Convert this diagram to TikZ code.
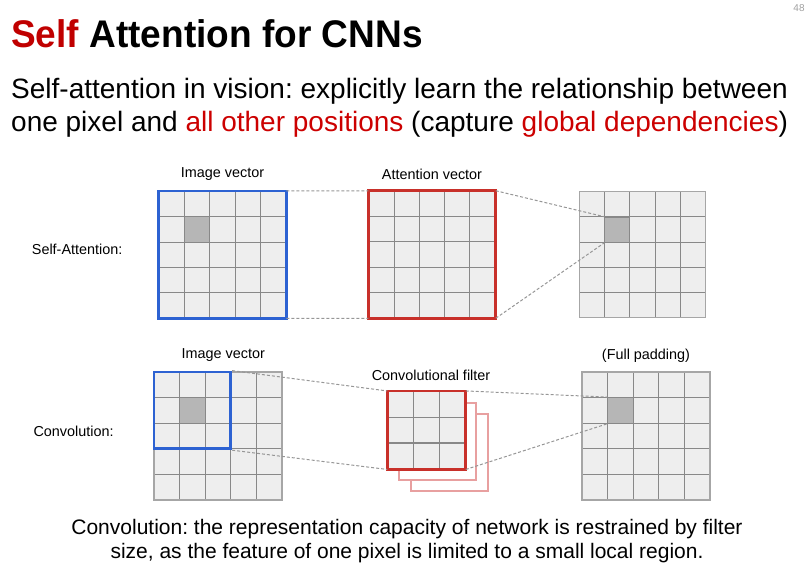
\documentclass[tikz,border=0pt]{standalone}
\usepackage{fontspec}
\setmainfont{Liberation Sans}
\usetikzlibrary{calc}
\frenchspacing
\definecolor{titlered}{RGB}{192,0,0}
\definecolor{textred}{RGB}{204,0,0}
\definecolor{boxblue}{RGB}{45,98,210}
\definecolor{boxred}{RGB}{200,48,42}
\definecolor{lightred}{RGB}{232,160,160}
\definecolor{cellfill}{RGB}{238,238,238}
\definecolor{cellline}{RGB}{136,136,136}
\definecolor{darkfill}{RGB}{182,182,182}
\definecolor{dashgray}{RGB}{150,150,150}
\definecolor{pagegray}{RGB}{160,160,160}
\tikzset{
  cells/.style={path picture={
    \pgfmathtruncatemacro\mm{#1-1}
    \foreach \k in {1,...,\mm}{
      \draw[cellline,line width=1.1pt]
        ($(path picture bounding box.north west)!\k/#1!(path picture bounding box.north east)$) --
        ($(path picture bounding box.south west)!\k/#1!(path picture bounding box.south east)$);
      \draw[cellline,line width=1.1pt]
        ($(path picture bounding box.north west)!\k/#1!(path picture bounding box.south west)$) --
        ($(path picture bounding box.north east)!\k/#1!(path picture bounding box.south east)$);
    }}},
  gridbox/.style={rectangle, inner sep=0pt, fill=cellfill, draw=cellline!75, line width=1.5pt,
    minimum width=#1, minimum height=#1},
  darkcell/.style={rectangle, inner sep=0pt, fill=darkfill, draw=cellline, line width=1.1pt,
    minimum width=#1, minimum height=#1},
  bluebox/.style={rectangle, inner sep=0pt, draw=boxblue, line width=2.8pt,
    minimum width=#1, minimum height=#1},
  redbox/.style={rectangle, inner sep=0pt, fill=cellfill, draw=boxred, line width=2.8pt,
    minimum width=#1, minimum height=#1},
  backlayer/.style={rectangle, inner sep=0pt, fill=white, draw=lightred, line width=2pt,
    minimum width=#1, minimum height=#1},
  dashlink/.style={draw=dashgray, line width=1pt, dash pattern=on 3pt off 2pt},
  lbl/.style={inner sep=0pt, font=\fontsize{14.4}{17}\selectfont},
}
\begin{document}
\begin{tikzpicture}[x=1pt,y=-1pt]
\useasboundingbox (0,0) rectangle (811,581);

% header
\node[inner sep=0pt, text=pagegray, font=\fontsize{10}{12}\selectfont] (pagenum) at (799,8) {48};
\node[inner sep=0pt, anchor=base west, xscale=0.962, font=\fontsize{38.5}{46}\selectfont\bfseries] (title) at (11,47)
  {\textcolor{titlered}{Self} Attention for CNNs};
\node[inner sep=0pt, anchor=base west, font=\fontsize{28}{34}\selectfont] (sub1) at (11,98)
  {Self-attention in vision: explicitly learn the relationship between};
\node[inner sep=0pt, anchor=base west, font=\fontsize{28}{34}\selectfont] (sub2) at (11,131)
  {one pixel and \textcolor{textred}{all other positions} (capture \textcolor{textred}{global dependencies})};

% self-attention row
\node[lbl, anchor=west] (salbl) at (31.7,249) {Self-Attention:};
\node[gridbox=126pt, cells=5] (saimg) at (222.5,254.7) {};
\node[darkcell=25.2pt] (saimgd) at (197.3,229.5) {};
\draw[boxblue, line width=2.8pt] (saimg.north west) rectangle (saimg.south east);
\node[gridbox=126pt, cells=5] (att) at (432,254.5) {};
\draw[boxred, line width=2.8pt] (att.north west) rectangle (att.south east);
\node[gridbox=126pt, cells=5] (saout) at (642.5,254.7) {};
\node[darkcell=25.2pt] (sad) at (617.3,229.8) {};
\node[lbl] (saimglbl) at (222.5,174) {Image vector};
\node[lbl] (attlbl) at (432,174) {Attention vector};

% convolution row
\node[lbl, anchor=west] (cvlbl) at (33.3,431) {Convolution:};
\node[gridbox=128pt, cells=5] (cimg) at (218,436) {};
\node[darkcell=25.6pt] (cimgd) at (192.4,410.4) {};
\node[bluebox=76.8pt] (cblue) at (192.4,410.4) {};
\node[lbl] (cimglbl) at (223.3,355) {Image vector};

\node[backlayer=77pt] (filt3) at (449.1,452.8) {};
\node[backlayer=77pt] (filt2) at (437.8,441.5) {};
\node[gridbox=77pt, cells=3] (filt) at (426.5,430.2) {};
\draw[boxred, line width=2.8pt] (filt.north west) rectangle (filt.south east);
\node[lbl] (filtlbl) at (431,375) {Convolutional filter};

\node[gridbox=128pt, cells=5] (cout) at (646,436) {};
\node[darkcell=25.6pt] (cd) at (620.7,410.4) {};
\node[lbl] (coutlbl) at (646,356) {(Full padding)};

% connectors
\draw[dashlink] (saimg.north east) -- (att.north west);
\draw[dashlink] (saimg.south east) -- (att.south west);
\draw[dashlink] (att.north east) -- (sad.north west);
\draw[dashlink] (att.south east) -- (sad.south west);
\draw[dashlink] (cblue.north east) -- (filt.north west);
\draw[dashlink] (cblue.south east) -- (filt.south west);
\draw[dashlink] (filt.north east) -- (cd.north west);
\draw[dashlink] (filt.south east) -- (cd.south west);

% caption
\node[inner sep=0pt, anchor=base, font=\fontsize{21}{24}\selectfont] (cap1) at (407,534)
  {Convolution: the representation capacity of network is restrained by filter};
\node[inner sep=0pt, anchor=base, font=\fontsize{21}{24}\selectfont] (cap2) at (407,558)
  {size, as the feature of one pixel is limited to a small local region.};
\end{tikzpicture}
\end{document}
